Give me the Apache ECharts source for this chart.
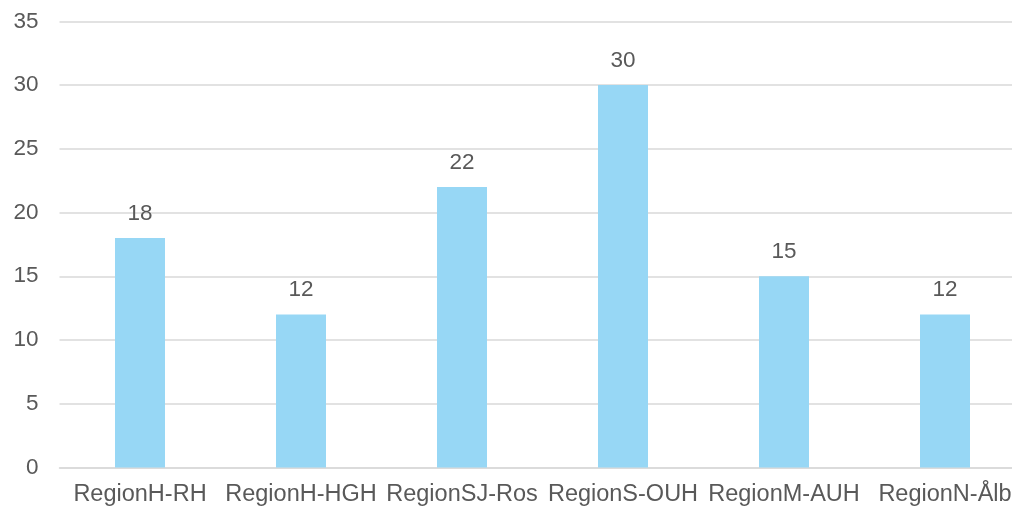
<!DOCTYPE html>
<html><head><meta charset="utf-8">
<script src="https://cdn.jsdelivr.net/npm/echarts@6/dist/echarts.min.js"></script>
<style>html,body{margin:0;padding:0;background:#fff}#c{width:1012px;height:509px}</style>
</head><body><div id="c"></div>
<script>
const categories = ["RegionH-RH","RegionH-HGH","RegionSJ-Ros","RegionS-OUH","RegionM-AUH","RegionN-Ålb"];
const values = [18,12,22,30,15,12];
const yTicks = {min:0,max:35,interval:5};
const chart = echarts.init(document.getElementById('c'),null,{renderer:'canvas'});
chart.setOption({
  animation:false,
  grid:{left:59.5,width:966,top:21.3,bottom:41.5,containLabel:false,outerBoundsMode:'none'},
  xAxis:{type:'category',data:categories,
    axisLine:{show:true,lineStyle:{color:'#d9d9d9',width:1.5}},axisTick:{show:false},
    axisLabel:{color:'#595959',fontSize:23.5,fontFamily:'Liberation Sans, Arial',margin:15,interval:0,hideOverlap:false}},
  yAxis:{type:'value',min:yTicks.min,max:yTicks.max,interval:yTicks.interval,
    axisLine:{show:false},axisTick:{show:false},
    splitLine:{lineStyle:{color:'#d9d9d9',width:1.5}},
    axisLabel:{color:'#595959',fontSize:22.5,fontFamily:'Liberation Sans, Arial',margin:21}},
  series:[{type:'bar',data:values,barWidth:50,
    itemStyle:{color:'#97d7f5'},
    label:{show:true,position:'top',distance:13,color:'#595959',fontSize:22.5,fontFamily:'Liberation Sans, Arial'}}]
});
</script></body></html>
